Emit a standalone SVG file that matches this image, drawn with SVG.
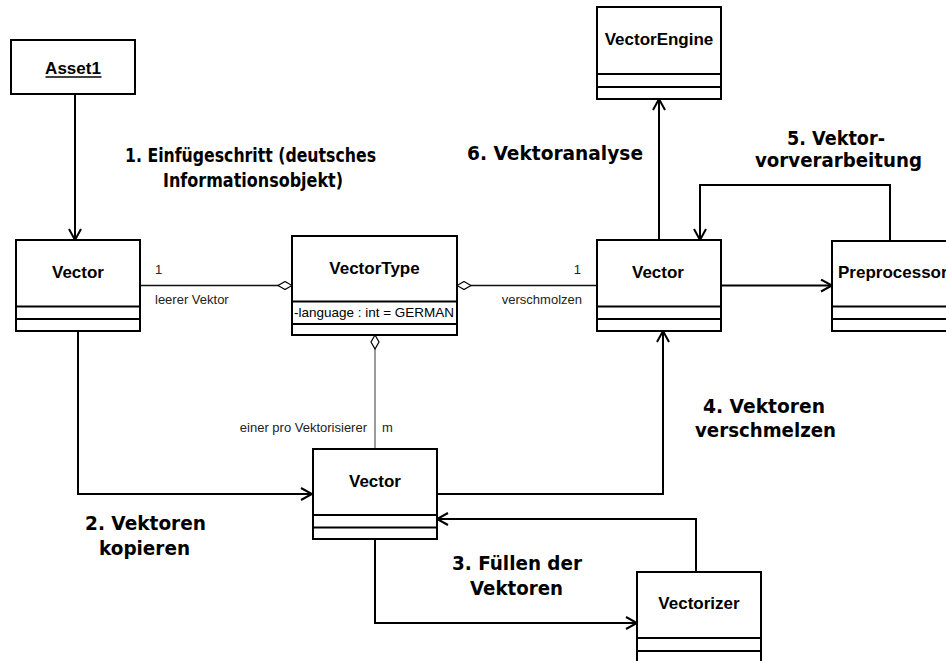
<svg xmlns="http://www.w3.org/2000/svg" width="946" height="661" viewBox="0 0 946 661">
  <style>
    .box { fill: #fff; stroke: #000; stroke-width: 2; }
    .sep { stroke: #000; stroke-width: 2; }
    .cls { font-family: "Liberation Sans", Arial, sans-serif; font-weight: bold; font-size: 17px; fill: #000; text-anchor: middle; }
    .cls-left { text-anchor: start; }
    .attr { font-family: "Liberation Sans", Arial, sans-serif; font-size: 13.5px; fill: #000; }
    .role { font-family: "Liberation Sans", Arial, sans-serif; font-size: 13px; fill: #222; }
    .step { font-family: "DejaVu Sans", Verdana, sans-serif; font-weight: bold; font-size: 19px; fill: #000; }
    .flow { fill: none; stroke: #000; stroke-width: 2; }
    .assoc { fill: none; stroke: #111; stroke-width: 1.3; }
    .assoc-v { fill: none; stroke: #666; stroke-width: 1.3; }
  </style>
  <defs>
    <marker id="open" markerUnits="userSpaceOnUse" markerWidth="14" markerHeight="14" viewBox="0 0 14 14" refX="12" refY="7" orient="auto">
      <path d="M1,1 L12,7 L1,13" fill="none" stroke="#000" stroke-width="2"/>
    </marker>
    <marker id="diamond" markerUnits="userSpaceOnUse" markerWidth="16" markerHeight="10" viewBox="0 0 16 10" refX="15" refY="5" orient="auto">
      <path d="M1,5 L8,1 L15,5 L8,9 Z" fill="#fff" stroke="#000" stroke-width="1.2"/>
    </marker>
  </defs>
  <rect width="946" height="661" fill="#fff"/>

  <!-- connectors -->
  <g id="connectors">
    <!-- Asset1 to left Vector -->
    <line class="flow" x1="75" y1="94" x2="75" y2="240" marker-end="url(#open)"/>
    <!-- associations to VectorType (aggregation diamonds) -->
    <line class="assoc" x1="141" y1="285.5" x2="292" y2="285.5" marker-end="url(#diamond)"/>
    <line class="assoc" x1="597" y1="285.5" x2="457" y2="285.5" marker-end="url(#diamond)"/>
    <line class="assoc-v" x1="375" y1="449" x2="375" y2="335" marker-end="url(#diamond)"/>
    <!-- 2. copy: left Vector to bottom Vector -->
    <polyline class="flow" points="78,331 78,494 312,494" marker-end="url(#open)"/>
    <!-- 4. merge: bottom Vector to right Vector -->
    <polyline class="flow" points="437,494 663,494 663,331" marker-end="url(#open)"/>
    <!-- 3. fill: bottom Vector to Vectorizer and back -->
    <polyline class="flow" points="375,539 375,623 637,623" marker-end="url(#open)"/>
    <polyline class="flow" points="696,572 696,519 437,519" marker-end="url(#open)"/>
    <!-- 6. analysis -->
    <line class="flow" x1="659" y1="240" x2="659" y2="99" marker-end="url(#open)"/>
    <!-- 5. preprocessing -->
    <line class="flow" x1="721" y1="285.5" x2="832" y2="285.5" marker-end="url(#open)"/>
    <polyline class="flow" points="890,241 890,185 700,185 700,240" marker-end="url(#open)"/>
  </g>

  <!-- association labels -->
  <g id="assoc-labels">
    <text class="role" x="155" y="274">1</text>
    <text class="role" x="155" y="304">leerer Vektor</text>
    <text class="role" x="581" y="274" text-anchor="end">1</text>
    <text class="role" x="582" y="304" text-anchor="end">verschmolzen</text>
    <text class="role" x="367" y="432" text-anchor="end">einer pro Vektorisierer</text>
    <text class="role" x="382" y="432">m</text>
  </g>

  <!-- step labels -->
  <g id="steps">
    <text class="step" x="125" y="162" textLength="251" lengthAdjust="spacingAndGlyphs">1. Einfügeschritt (deutsches</text>
    <text class="step" x="163" y="187" textLength="180" lengthAdjust="spacingAndGlyphs">Informationsobjekt)</text>
    <text class="step" x="85" y="530" textLength="121" lengthAdjust="spacingAndGlyphs">2. Vektoren</text>
    <text class="step" x="99" y="555" textLength="91" lengthAdjust="spacingAndGlyphs">kopieren</text>
    <text class="step" x="452" y="570" textLength="130" lengthAdjust="spacingAndGlyphs">3. Füllen der</text>
    <text class="step" x="470" y="595" textLength="93" lengthAdjust="spacingAndGlyphs">Vektoren</text>
    <text class="step" x="703" y="413" textLength="122" lengthAdjust="spacingAndGlyphs">4. Vektoren</text>
    <text class="step" x="695" y="437" textLength="141" lengthAdjust="spacingAndGlyphs">verschmelzen</text>
    <text class="step" x="787" y="145" textLength="98" lengthAdjust="spacingAndGlyphs">5. Vektor-</text>
    <text class="step" x="755" y="167" textLength="167" lengthAdjust="spacingAndGlyphs">vorverarbeitung</text>
    <text class="step" x="467" y="160" textLength="176" lengthAdjust="spacingAndGlyphs">6. Vektoranalyse</text>
  </g>

  <!-- object instance -->
  <g id="asset1">
    <rect class="box" x="11" y="40" width="124" height="54"/>
    <text class="cls" x="73" y="74">Asset1</text>
    <line x1="45.5" y1="77" x2="101.5" y2="77" stroke="#000" stroke-width="1.5"/>
  </g>

  <!-- classes -->
  <g id="vector-left">
    <rect class="box" x="16" y="240" width="124" height="91"/>
    <line class="sep" x1="16" y1="306.5" x2="140" y2="306.5"/>
    <line class="sep" x1="16" y1="319" x2="140" y2="319"/>
    <text class="cls" x="78" y="278">Vector</text>
  </g>

  <g id="vectortype">
    <rect class="box" x="292" y="236" width="165" height="99"/>
    <line class="sep" x1="292" y1="301.5" x2="457" y2="301.5"/>
    <line class="sep" x1="292" y1="324" x2="457" y2="324"/>
    <text class="cls" x="374.5" y="274">VectorType</text>
    <text class="attr" x="294" y="317" textLength="160" lengthAdjust="spacingAndGlyphs">-language : int = GERMAN</text>
  </g>

  <g id="vector-right">
    <rect class="box" x="597" y="240" width="124" height="91"/>
    <line class="sep" x1="597" y1="306.5" x2="721" y2="306.5"/>
    <line class="sep" x1="597" y1="319" x2="721" y2="319"/>
    <text class="cls" x="658" y="278">Vector</text>
  </g>

  <g id="vector-bottom">
    <rect class="box" x="313" y="449" width="124" height="90"/>
    <line class="sep" x1="313" y1="515" x2="437" y2="515"/>
    <line class="sep" x1="313" y1="527.5" x2="437" y2="527.5"/>
    <text class="cls" x="375" y="487">Vector</text>
  </g>

  <g id="vectorengine">
    <rect class="box" x="597" y="7" width="124" height="92"/>
    <line class="sep" x1="597" y1="74" x2="721" y2="74"/>
    <line class="sep" x1="597" y1="87" x2="721" y2="87"/>
    <text class="cls" x="659" y="45">VectorEngine</text>
  </g>

  <g id="preprocessor">
    <rect class="box" x="832" y="241" width="124" height="90"/>
    <line class="sep" x1="832" y1="306.5" x2="956" y2="306.5"/>
    <line class="sep" x1="832" y1="319" x2="956" y2="319"/>
    <text class="cls cls-left" x="838" y="278">Preprocessor</text>
  </g>

  <g id="vectorizer">
    <rect class="box" x="637" y="572" width="124" height="100"/>
    <line class="sep" x1="637" y1="638" x2="761" y2="638"/>
    <line class="sep" x1="637" y1="651" x2="761" y2="651"/>
    <text class="cls" x="699" y="609">Vectorizer</text>
  </g>
</svg>
